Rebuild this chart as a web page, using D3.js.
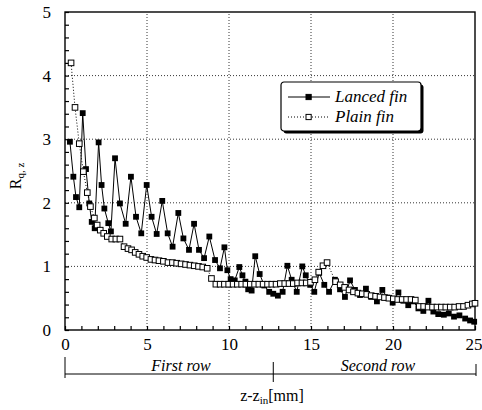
<!DOCTYPE html>
<html>
<head>
<meta charset="utf-8">
<script src="https://cdn.jsdelivr.net/npm/d3@7"></script>
<style>
  body { margin: 0; background: #fff; }
  svg { display: block; font-family: "Liberation Serif", "DejaVu Serif", serif; }
</style>
</head>
<body>
<svg id="chart" width="482" height="410"></svg>
<script>
// lanced fin (filled squares)
let lancedZ = [0.30,0.51,0.67,0.87,1.08,1.28,1.48,1.63,1.81,2.05,2.23,2.40,2.64,2.80,3.05,3.35,3.70,
  4.02,4.33,4.65,4.98,5.28,5.59,5.93,6.26,6.56,6.91,7.22,7.56,7.87,8.17,8.48,8.80,9.15,9.45,
  9.72,9.90,10.10,10.35,10.63,10.82,11.00,11.17,11.38,11.60,11.87,12.15,12.45,12.70,12.98,13.27,
  13.56,13.82,14.13,14.47,14.68,14.95,15.20,15.50,15.81,16.10,16.46,16.77,17.07,17.38,17.68,17.99,
  18.35,18.67,19.02,19.35,19.65,19.98,20.33,20.63,20.93,21.24,21.55,21.85,22.16,22.46,22.76,23.10,
  23.40,23.72,24.05,24.40,24.70,24.95];
let lancedR = [2.96,2.41,2.09,1.93,3.41,2.53,1.99,1.70,1.60,2.95,2.28,1.91,1.68,1.55,2.70,1.99,1.67,
  2.41,1.78,1.52,2.28,1.78,1.51,2.03,1.52,1.31,1.84,1.44,1.26,1.67,1.26,1.13,1.47,1.10,0.97,
  1.30,0.94,0.80,0.78,0.99,0.86,0.76,0.64,0.62,1.16,0.88,0.70,0.60,0.57,0.54,0.60,
  1.01,0.79,0.60,1.00,0.86,0.71,0.60,0.90,0.71,0.60,0.79,0.64,0.52,0.78,0.63,0.55,
  0.65,0.52,0.45,0.63,0.51,0.43,0.59,0.46,0.39,0.45,0.34,0.30,0.46,0.29,0.25,0.24,
  0.26,0.21,0.23,0.18,0.15,0.13];

// plain fin (open squares)
let plainZ = [0.37,0.61,0.87,1.12,1.36,1.55,1.79,1.96,2.15,2.36,2.58,2.85,3.10,3.35,3.60,3.84,4.06,
  4.28,4.51,4.74,4.98,5.24,5.49,5.73,6.00,6.28,6.55,6.81,7.08,7.35,7.62,7.88,8.14,8.40,8.67,8.93,
  9.20,9.46,9.72,9.98,10.25,10.51,10.77,11.03,11.30,11.56,11.82,12.08,12.35,12.61,12.87,13.13,
  13.40,13.66,13.92,14.18,14.45,14.71,14.97,15.24,15.47,15.73,15.98,16.50,16.78,17.05,17.32,
  17.59,17.86,18.13,18.40,18.67,18.94,19.21,19.48,19.75,20.02,20.29,20.56,20.83,21.10,21.36,
  21.60,21.87,22.14,22.41,22.68,22.95,23.22,23.49,23.76,24.03,24.30,24.57,24.84,25.00];
let plainR = [4.20,3.50,2.93,2.49,2.16,1.94,1.76,1.65,1.57,1.52,1.47,1.43,1.43,1.43,1.31,1.28,1.26,
  1.22,1.19,1.16,1.14,1.11,1.10,1.09,1.08,1.06,1.06,1.05,1.04,1.03,1.02,1.01,1.00,0.99,0.97,0.81,
  0.72,0.72,0.72,0.72,0.72,0.72,0.72,0.72,0.72,0.72,0.72,0.72,0.72,0.72,0.72,0.73,
  0.73,0.73,0.73,0.74,0.74,0.74,0.75,0.79,0.91,1.01,1.06,0.76,0.71,0.67,0.63,
  0.60,0.58,0.57,0.56,0.54,0.53,0.52,0.51,0.50,0.49,0.48,0.48,0.48,0.48,0.47,
  0.37,0.37,0.36,0.36,0.36,0.36,0.36,0.36,0.36,0.37,0.37,0.39,0.41,0.42];

let xTicks = [0,5,10,15,20,25];
let yTicks = [0,1,2,3,4,5];
let seriesNames = ['Lanced fin','Plain fin'];
let rowNames = ['First row','Second row'];
let rowBounds = [0,12.7,25];

let svg = d3.select('#chart');
let x = d3.scaleLinear().domain([0,25]).range([65,475]);
let y = d3.scaleLinear().domain([0,5]).range([330,12]);

// grid
svg.append('g').selectAll('line').data(xTicks.slice(1,-1)).enter().append('line')
  .attr('x1',d=>x(d)).attr('x2',d=>x(d)).attr('y1',y(0)).attr('y2',y(5))
  .attr('stroke','#000').attr('stroke-width',0.8).attr('stroke-dasharray','1,2');
svg.append('g').selectAll('line').data(yTicks.slice(1,-1)).enter().append('line')
  .attr('y1',d=>y(d)).attr('y2',d=>y(d)).attr('x1',x(0)).attr('x2',x(25))
  .attr('stroke','#000').attr('stroke-width',0.8).attr('stroke-dasharray','1,2');

// axes with minor ticks pointing inward
let xAxis = d3.axisBottom(x).tickValues(d3.range(26))
  .tickFormat(d=>xTicks.includes(d) ? d : '').tickSizeInner(-4).tickSizeOuter(0).tickPadding(8);
let yAxis = d3.axisLeft(y).tickValues(d3.range(26).map(i=>i/5))
  .tickFormat(d=>yTicks.includes(d) ? d : '').tickSizeInner(-4).tickSizeOuter(0).tickPadding(14);

let gx = svg.append('g').attr('transform','translate(0,'+y(0)+')').call(xAxis);
let gy = svg.append('g').attr('transform','translate('+x(0)+',0)').call(yAxis);
[gx,gy].forEach(g=>{
  g.select('.domain').remove();
  g.selectAll('line').attr('stroke','#000').attr('stroke-width',1.2);
  g.selectAll('text').attr('font-family','"Liberation Serif", serif').attr('font-size',17).attr('fill','#000');
});
// last label sits at the window edge; keep it inside
gx.selectAll('text').filter(d=>d === 25).attr('text-anchor','end').attr('dx',7);

// frame
svg.append('rect').attr('x',x(0)).attr('y',y(5)).attr('width',x(25)-x(0)).attr('height',y(0)-y(5))
  .attr('fill','none').attr('stroke','#000').attr('stroke-width',1.4);

let lanced = lancedZ.map((z,i)=>({z:z,r:lancedR[i]}));
let plain = plainZ.map((z,i)=>({z:z,r:plainR[i]}));
let line = d3.line().x(d=>x(d.z)).y(d=>y(d.r));

// lanced fin
svg.append('path').datum(lanced).attr('d',line).attr('fill','none')
  .attr('stroke','#000').attr('stroke-width',1);
svg.append('g').selectAll('rect').data(lanced).enter().append('rect')
  .attr('x',d=>x(d.z)-2.9).attr('y',d=>y(d.r)-2.9).attr('width',5.8).attr('height',5.8)
  .attr('fill','#000');

// plain fin
svg.append('path').datum(plain).attr('d',line).attr('fill','none')
  .attr('stroke','#000').attr('stroke-width',1).attr('stroke-dasharray','1,2');
svg.append('g').selectAll('rect').data(plain).enter().append('rect')
  .attr('x',d=>x(d.z)-2.8).attr('y',d=>y(d.r)-2.8).attr('width',5.6).attr('height',5.6)
  .attr('fill','#fff').attr('stroke','#000').attr('stroke-width',1);

// legend
let lg = svg.append('g').attr('transform','translate(281,82)');
lg.append('rect').attr('x',2.5).attr('y',2.5).attr('width',140).attr('height',49).attr('rx',3).attr('fill','#000');
lg.append('rect').attr('width',140).attr('height',49).attr('rx',3).attr('fill','#fff')
  .attr('stroke','#000').attr('stroke-width',1.2);
seriesNames.forEach((name,i)=>{
  let yy = 15 + i*20;
  lg.append('line').attr('x1',7).attr('x2',49).attr('y1',yy).attr('y2',yy)
    .attr('stroke','#000').attr('stroke-width',1).attr('stroke-dasharray',i ? '1,2' : null);
  lg.append('rect').attr('x',25).attr('y',yy-2.6).attr('width',5.2).attr('height',5.2)
    .attr('fill',i ? '#fff' : '#000').attr('stroke','#000').attr('stroke-width',1);
  lg.append('text').attr('x',54).attr('y',yy+4.5).text(name)
    .attr('font-size',17).attr('font-style','italic');
});

// row bracket
let by = 374;
svg.append('line').attr('x1',x(rowBounds[0])).attr('x2',x(rowBounds[2])+1).attr('y1',by).attr('y2',by)
  .attr('stroke','#000').attr('stroke-width',1);
svg.append('line').attr('x1',x(rowBounds[0])).attr('x2',x(rowBounds[0])).attr('y1',357).attr('y2',378)
  .attr('stroke','#000').attr('stroke-width',1);
svg.append('line').attr('x1',x(rowBounds[1])).attr('x2',x(rowBounds[1])).attr('y1',362).attr('y2',382)
  .attr('stroke','#000').attr('stroke-width',1);
svg.append('line').attr('x1',x(rowBounds[2])+1).attr('x2',x(rowBounds[2])+1).attr('y1',364).attr('y2',376)
  .attr('stroke','#000').attr('stroke-width',1);
let rowCenters = [181,378];
rowNames.forEach((name,i)=>{
  svg.append('text').attr('x',rowCenters[i]).attr('y',371).attr('text-anchor','middle')
    .attr('font-size',16).attr('font-style','italic').text(name);
});

// axis titles
let xt = svg.append('text').attr('x',272).attr('y',401).attr('text-anchor','middle').attr('font-size',16);
xt.append('tspan').text('z-z');
xt.append('tspan').attr('font-size',11).attr('dy',3).text('in');
xt.append('tspan').attr('dy',-3).text('[mm]');

let yt = svg.append('text').attr('transform','translate(21,176) rotate(-90)')
  .attr('text-anchor','middle').attr('font-size',16);
yt.append('tspan').text('R');
yt.append('tspan').attr('font-size',11).attr('dy',3).text('q, z');
</script>
</body>
</html>
